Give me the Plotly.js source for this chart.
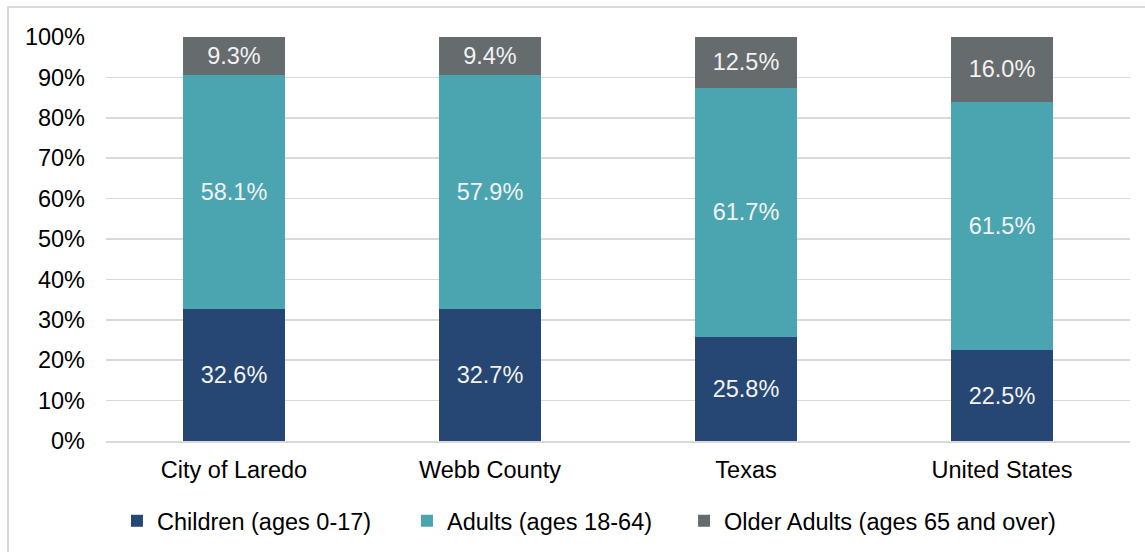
<!DOCTYPE html>
<html><head><meta charset="utf-8">
<script src="https://cdn.plot.ly/plotly-3.0.1.min.js"></script>
<style>html,body{margin:0;padding:0;background:#fff}#chart{width:1145px;height:552px}</style>
</head><body><div id="chart"></div>
<script>
const categories = ["City of Laredo", "Webb County", "Texas", "United States"];
const children = [32.6, 32.7, 25.8, 22.5];
const adults = [58.1, 57.9, 61.7, 61.5];
const older = [9.3, 9.4, 12.5, 16.0];
const seriesNames = ["Children (ages 0-17)", "Adults (ages 18-64)", "Older Adults (ages 65 and over)"];
const colors = ["#264773", "#4ba5b0", "#666b6e"];
const legendIds = ["legend", "legend2", "legend3"];
const FONT = "Liberation Sans, Arial, sans-serif";

const mk = (vals, i) => ({
  type: "bar", x: categories, y: vals, name: seriesNames[i], legend: legendIds[i],
  marker: {color: colors[i]},
  text: vals.map(v => v.toFixed(1) + "%"),
  textposition: "inside", insidetextanchor: "middle", constraintext: "none",
  textfont: {family: FONT, size: 23.5, color: "#f2f2f2"},
  hoverinfo: "skip"
});

const data = [mk(children, 0), mk(adults, 1), mk(older, 2)];

const legBase = (x) => ({orientation: "h", x: x, xanchor: "left", y: -0.198, yanchor: "middle",
  font: {family: FONT, size: 23.5, color: "#000"}, itemwidth: 30, bgcolor: "rgba(0,0,0,0)"});

const layout = {
  width: 1145, height: 552,
  margin: {l: 106, r: 15, t: 37, b: 111, autoexpand: false},
  barmode: "stack", bargap: 0.6,
  paper_bgcolor: "#fff", plot_bgcolor: "#fff",
  font: {family: FONT, size: 23.5, color: "#000"},
  showlegend: true,
  legend: legBase(0.0107),
  legend2: legBase(0.2939),
  legend3: legBase(0.5645),
  xaxis: {showgrid: false, showline: true, linecolor: "#d9d9d9", linewidth: 1.5, automargin: false,
          ticks: "", tickfont: {family: FONT, size: 23.5, color: "#000"}, ticklabelstandoff: 7},
  yaxis: {range: [0, 100], dtick: 10, ticksuffix: "%", showgrid: true, gridcolor: "#d9d9d9", gridwidth: 1.5,
          zeroline: false, showline: false, ticks: "", ticklabelstandoff: 20, automargin: false,
          tickfont: {family: FONT, size: 23.5, color: "#000"}},
  shapes: [{type: "rect", xref: "paper", yref: "paper", x0: -0.0957, x1: 1.2, y0: -0.4, y1: 1.0743,
            line: {color: "#d9d9d9", width: 2}, fillcolor: "rgba(0,0,0,0)", layer: "below"}]
};

Plotly.newPlot("chart", data, layout, {displayModeBar: false, staticPlot: true});
</script></body></html>
